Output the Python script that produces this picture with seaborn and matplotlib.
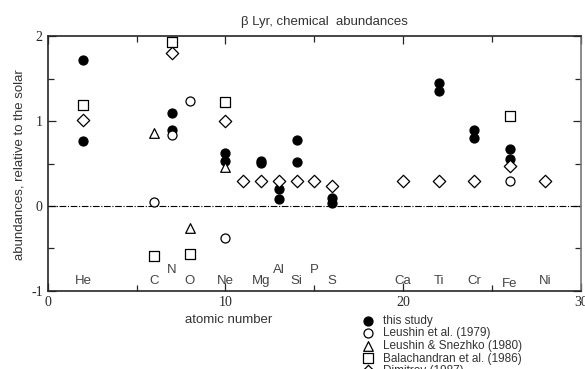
import matplotlib
matplotlib.use("Agg")
import matplotlib.pyplot as plt
import seaborn as sns
import pandas as pd

sns.set_style("ticks")
plt.rcParams['font.family'] = ['Liberation Sans', 'DejaVu Sans']
plt.rcParams['axes.unicode_minus'] = False

# this study
this_x = [2, 2, 7, 7, 10, 10, 12, 12, 13, 13, 14, 14, 16, 16, 22, 22, 24, 24, 26, 26]
this_y = [1.72, 0.77, 1.09, 0.90, 0.62, 0.53, 0.53, 0.51, 0.20, 0.08, 0.78, 0.52, 0.10, 0.04, 1.45, 1.35, 0.89, 0.80, 0.67, 0.55]
# Leushin et al. (1979)
l79_x = [6, 7, 8, 10, 26]
l79_y = [0.05, 0.83, 1.24, -0.38, 0.30]
# Leushin & Snezhko (1980)
ls80_x = [6, 8, 10]
ls80_y = [0.86, -0.26, 0.46]
# Balachandran et al. (1986)
b86_x = [2, 6, 7, 8, 10, 26]
b86_y = [1.19, -0.59, 1.93, -0.56, 1.22, 1.06]
# Dimitrov (1987)
d87_x = [2, 7, 10, 11, 12, 13, 14, 15, 16, 20, 22, 24, 26, 28]
d87_y = [1.01, 1.80, 1.00, 0.30, 0.30, 0.30, 0.30, 0.30, 0.24, 0.30, 0.30, 0.30, 0.47, 0.30]

elem_names = ["He", "C", "N", "O", "Ne", "Mg", "Al", "Si", "P", "S", "Ca", "Ti", "Cr", "Fe", "Ni"]
elem_x = [2, 6, 7, 8, 10, 12, 13, 14, 15, 16, 20, 22, 24, 26, 28]
elem_y = [-0.88, -0.88, -0.75, -0.88, -0.88, -0.88, -0.75, -0.88, -0.75, -0.88, -0.88, -0.88, -0.88, -0.92, -0.88]

fig = plt.figure(figsize=(5.85, 3.69), dpi=100)
ax = fig.add_axes([0.0815, 0.2114, 0.9115, 0.691])

ax.axhline(0, color="black", lw=0.8, ls=(0, (6, 1.5, 1, 1.5)), zorder=1)

series = [
    (this_x, this_y, "o", "black", "this study", 42),
    (l79_x, l79_y, "o", "white", "Leushin et al. (1979)", 42),
    (ls80_x, ls80_y, "^", "white", "Leushin & Snezhko (1980)", 48),
    (b86_x, b86_y, "s", "white", "Balachandran et al. (1986)", 42),
    (d87_x, d87_y, "D", "white", "Dimitrov (1987)", 40),
]
for xs, ys, m, fc, lab, s in series:
    df = pd.DataFrame({"x": xs, "y": ys})
    sns.scatterplot(data=df, x="x", y="y", marker=m, s=s, facecolor=fc,
                    edgecolor="black", linewidth=0.9, label=lab, ax=ax, zorder=3)

for n, x, y in zip(elem_names, elem_x, elem_y):
    ax.text(x, y, n, ha="center", va="center", fontsize=9.5, color="#444444")

ax.set_xlim(0, 30)
ax.set_ylim(-1, 2)
ax.set_xticks([0, 10, 20, 30])
ax.set_xticks([5, 15, 25], minor=True)
ax.set_yticks([-1, 0, 1, 2])
ax.set_yticks([-0.5, 0.5, 1.5], minor=True)
ax.tick_params(which="both", direction="in", top=True, right=True, width=0.9)
ax.tick_params(which="major", length=6)
ax.tick_params(which="minor", length=4)
for lbl in ax.get_xticklabels() + ax.get_yticklabels():
    lbl.set_fontfamily("Liberation Serif")
    lbl.set_fontsize(10)
for sp in ax.spines.values():
    sp.set_linewidth(1.2)
ax.spines["right"].set_color("#777777")

ax.set_xlabel("")
ax.set_ylabel("")
fig.text(0.39, 0.133, "atomic number", ha="center", va="center", fontsize=9.5, color="#333333")
fig.text(0.034, 0.553, "abundances, relative to the solar", rotation=90, ha="center", va="center",
         fontsize=9.5, color="#333333")
fig.text(0.554, 0.94, "β Lyr, chemical  abundances", ha="center", va="center", fontsize=9.5, color="#333333")

leg = ax.legend(loc="upper left", bbox_to_anchor=(0.609, 0.163), bbox_transform=fig.transFigure,
                frameon=False, fontsize=8.5, handletextpad=0.8, labelspacing=0.05,
                borderpad=0, handlelength=1.0, markerscale=1.0)
for t in leg.get_texts():
    t.set_color("#333333")

fig.savefig("out.png", dpi=100)
